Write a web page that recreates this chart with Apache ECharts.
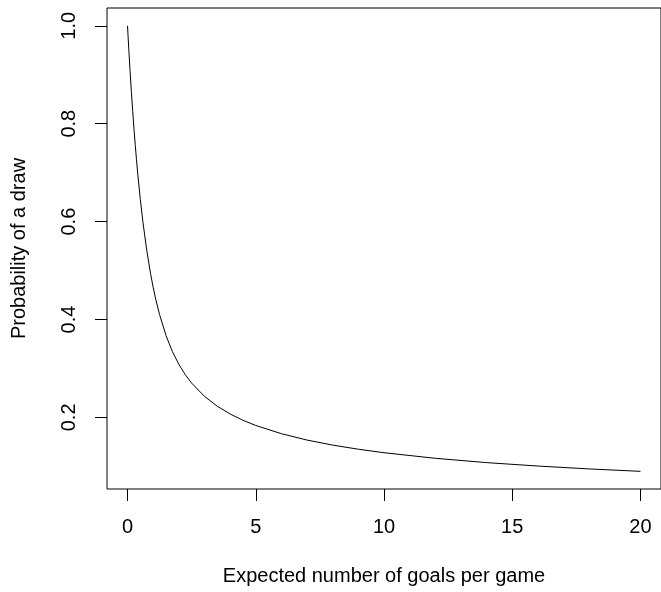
<!DOCTYPE html>
<html>
<head>
<meta charset="utf-8">
<script src="https://cdn.jsdelivr.net/npm/echarts@6/dist/echarts.min.js"></script>
<style>html,body{margin:0;padding:0;background:#fff;overflow:hidden;}#c{width:661px;height:592px;}</style>
</head>
<body>
<div id="c"></div>
<script>
const goals = [0,0.02,0.05,0.1,0.15,0.2,0.25,0.3,0.35,0.4,0.5,0.6,0.75,0.9,1,1.1,1.25,1.5,1.75,2,2.25,2.5,3,3.5,4,4.5,5,6,7,8,9,10,12,14,16,18,20];
const drawProb = [1,0.9803,0.9518,0.9071,0.8656,0.8269,0.7910,0.7576,0.7264,0.6974,0.6450,0.5993,0.5412,0.4932,0.4658,0.4414,0.4099,0.3674,0.3345,0.3085,0.2874,0.2701,0.2430,0.2228,0.2070,0.1941,0.1835,0.1667,0.1537,0.1434,0.1350,0.1278,0.1164,0.1076,0.1006,0.0947,0.0898];
const xTicks = [0,5,10,15,20];
const yTicks = [0.2,0.4,0.6,0.8,1.0];

const chart = echarts.init(document.getElementById('c'), null, {renderer:'canvas'});
const font = 'Liberation Sans, Arial, Helvetica, sans-serif';
chart.setOption({
  animation:false,
  backgroundColor:'#fff',
  grid:{left:107,right:-3,top:8,bottom:103,show:true,borderColor:'#000',borderWidth:1,backgroundColor:'transparent'},
  xAxis:{
    type:'value',min:-0.8,max:20.8,
    axisLine:{show:false,onZero:false},
    splitLine:{show:false},
    axisTick:{show:true,customValues:xTicks,length:12,lineStyle:{color:'#000',width:1}},
    axisLabel:{customValues:xTicks,margin:28,color:'#000',fontSize:20,fontFamily:font},
    name:'Expected number of goals per game',nameLocation:'middle',nameGap:77,
    nameTextStyle:{color:'#000',fontSize:20,fontFamily:font}
  },
  yAxis:{
    type:'value',min:0.0537,max:1.0364,
    axisLine:{show:false,onZero:false},
    splitLine:{show:false},
    axisTick:{show:true,customValues:yTicks,length:12,lineStyle:{color:'#000',width:1}},
    axisLabel:{customValues:yTicks,margin:28,rotate:90,color:'#000',fontSize:20,fontFamily:font,
      formatter:v=>v.toFixed(1)},
    name:'Probability of a draw',nameLocation:'middle',nameGap:78,
    nameTextStyle:{color:'#000',fontSize:20,fontFamily:font}
  },
  series:[{
    type:'line',
    data:goals.map((g,i)=>[g,drawProb[i]]),
    showSymbol:false,
    smooth:false,
    lineStyle:{color:'#000',width:1}
  }]
});
</script>
</body>
</html>
